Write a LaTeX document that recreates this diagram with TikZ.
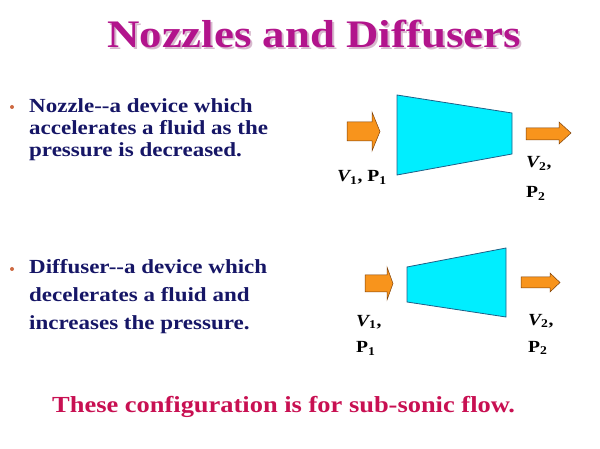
\documentclass[tikz,border=0pt]{standalone}
\usepackage{fontspec}
\setmainfont[FakeStretch=1.15]{Liberation Serif}
\definecolor{titlemag}{RGB}{178,20,140}
\definecolor{titleshade}{RGB}{215,185,205}
\definecolor{bodyblue}{RGB}{22,22,102}
\definecolor{footred}{RGB}{200,16,82}
\definecolor{ductfill}{RGB}{0,238,255}
\definecolor{ductedge}{RGB}{30,95,135}
\definecolor{flowfill}{RGB}{248,148,28}
\definecolor{flowedge}{RGB}{125,65,10}
\definecolor{bulletcol}{RGB}{205,105,65}
\newcommand{\lines}[1]{\begin{tabular}[t]{@{}l@{}}#1\end{tabular}}
\begin{document}
\begin{tikzpicture}[x=1pt,y=-1pt]
	\tikzstyle{duct}=[fill=ductfill,draw=ductedge,line width=0.8pt]
	\tikzstyle{flow}=[fill=flowfill,draw=flowedge,line width=0.5pt]
	\tikzstyle{bodytext}=[anchor=base west,inner sep=0pt,text=bodyblue,font=\fontsize{20}{22}\selectfont\bfseries]
	\tikzstyle{statelabel}=[anchor=base west,inner sep=0pt,font=\fontsize{17}{27}\selectfont\bfseries]
	\tikzstyle{dot}=[circle,fill=bulletcol,inner sep=0pt,minimum size=4pt]
	\useasboundingbox (0,0) rectangle (600,449);
	% title with its shadow
	\node[anchor=base west,inner sep=0pt,text=titleshade,font=\fontsize{39}{44}\selectfont\bfseries] (title_s) at (109,50) {Nozzles and Diffusers};
	\node[anchor=base west,inner sep=0pt,text=titlemag,font=\fontsize{39}{44}\selectfont\bfseries] (title) at (107,48) {Nozzles and Diffusers};
	% nozzle
	\node[dot] (b_1) at (12,107) {};
	\node[bodytext] (t_1) at (29,113) {\lines{Nozzle-{}-a device which\\accelerates a fluid as the\\pressure is decreased.}};
	\draw[duct] (397,95) -- (512,113) -- (512,154) -- (397,175) -- cycle;
	\draw[flow] (347,122) -- (372,122) -- (372,112) -- (380,131.5) -- (372,151) -- (372,141) -- (347,141) -- cycle;
	\draw[flow] (526,128) -- (559,128) -- (559,122) -- (571,133) -- (559,144) -- (559,140) -- (526,140) -- cycle;
	\node[statelabel] (n_in) at (337,182) {{\itshape V}\textsubscript{1}, P\textsubscript{1}};
	\node[statelabel,font=\fontsize{17}{30}\selectfont\bfseries] (n_out) at (526,168) {\lines{{\itshape V}\textsubscript{2},\\P\textsubscript{2}}};
	% diffuser
	\node[dot] (b_2) at (12,269) {};
	\node[bodytext,font=\fontsize{20}{28.5}\selectfont\bfseries] (t_2) at (29,273) {\lines{Diffuser-{}-a device which\\decelerates a fluid and\\increases the pressure.}};
	\draw[duct] (407,267) -- (506,248) -- (506,317) -- (407,302) -- cycle;
	\draw[flow] (365,275) -- (387,275) -- (387,267) -- (393,283.5) -- (387,300) -- (387,292) -- (365,292) -- cycle;
	\draw[flow] (521,277) -- (550,277) -- (550,273) -- (560,282.5) -- (550,292) -- (550,288) -- (521,288) -- cycle;
	\node[statelabel] (d_in) at (356,326) {\lines{{\itshape V}\textsubscript{1},\\P\textsubscript{1}}};
	\node[statelabel] (d_out) at (528,325) {\lines{{\itshape V}\textsubscript{2},\\P\textsubscript{2}}};
	% footnote
	\node[anchor=base west,inner sep=0pt,text=footred,font=\fontsize{23}{26}\selectfont\bfseries] (foot) at (52,412) {These configuration is for sub-sonic flow.};
\end{tikzpicture}
\end{document}
